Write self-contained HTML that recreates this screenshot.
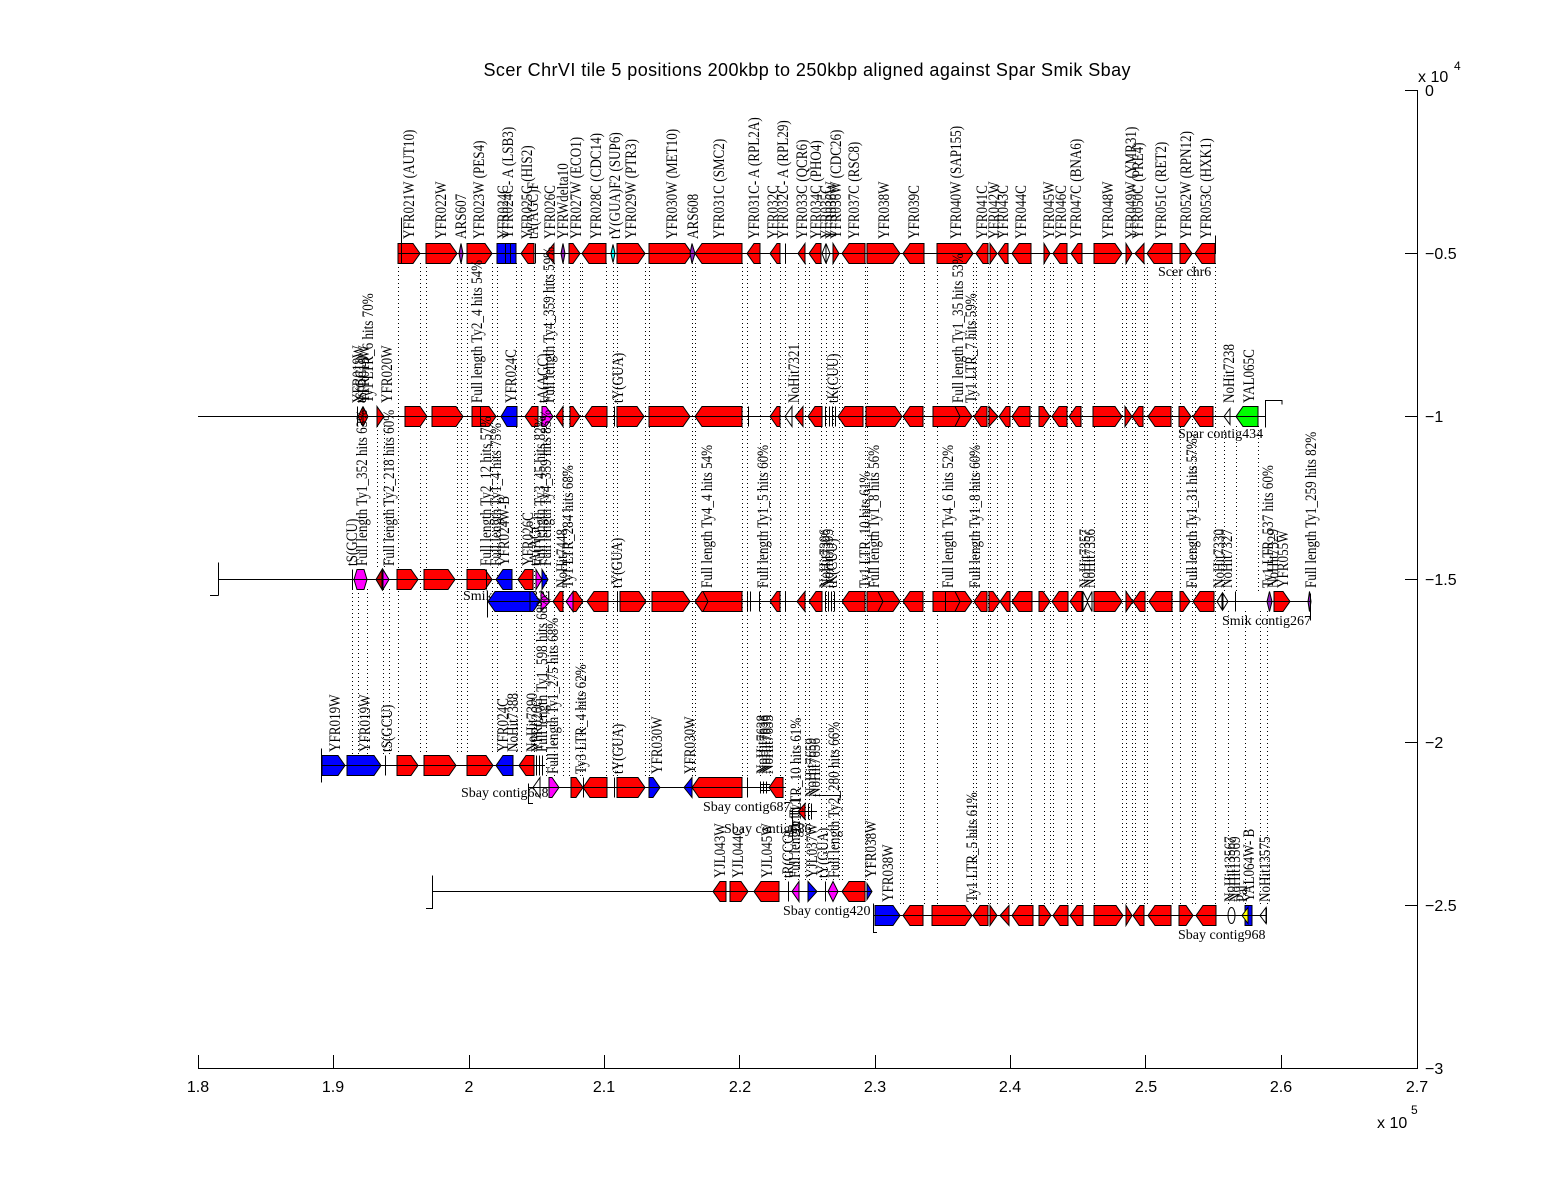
<!DOCTYPE html>
<html><head><meta charset="utf-8"><style>
html,body{margin:0;padding:0;background:#fff}
svg{display:block;background:#fff}
.r{fill:#f00}.b{fill:#00f}.m{fill:#f0f}.g{fill:#0f0}.w{fill:#fff}.y{fill:#ff0}.p{fill:#9020c0}.d{fill:#c00000}
polygon,rect,ellipse{stroke:#000;stroke-width:1}
.ln{stroke:#000;stroke-width:1;fill:none}
.l text{font-family:"Liberation Serif",serif;font-size:16px;fill:#000}
.c{font-family:"Liberation Serif",serif;font-size:14px;fill:#000}
.ax{font-family:"Liberation Sans",sans-serif;font-size:16px;fill:#000}
</style></head><body>
<svg width="1568" height="1200" viewBox="0 0 1568 1200" xmlns="http://www.w3.org/2000/svg">
<!-- title -->
<text class="ax" x="807" y="76" text-anchor="middle" textLength="647" style="font-size:18px">Scer ChrVI tile 5 positions 200kbp to 250kbp aligned against Spar Smik Sbay</text>
<!-- dotted alignment lines -->
<path class="ln" stroke-dasharray="1 3" d="
M398.5 263V755M420.5 263V755M426.5 263V755M457.5 263V755M461.5 263V755M467.5 263V755M492.5 263V755M497.5 263V755M516.5 263V755M521.5 263V755M534.5 263V755
M546.5 263V777M554.5 263V777M563.5 263V777M569.5 263V777M580.5 263V777M582.5 263V777M606.5 263V777M613.5 263V777M617.5 263V777M645.5 263V777M649.5 263V777M692.5 263V777M695.5 263V777M742.5 263V777M747.5 263V777M760.5 263V777M770.5 263V777M780.5 263V777
M785.5 263V881M798.5 263V881M805.5 263V881M809.5 263V881M821.5 263V881M826.5 263V881M833.5 263V881M839.5 263V881M842.5 263V881M865.5 263V881M867.5 263V881
M900.5 263V905M903.5 263V905M924.5 263V905M937.5 263V905M973.5 263V905M976.5 263V905M988.5 263V905M990.5 263V905M997.5 263V905M1008.5 263V905M1012.5 263V905M1031.5 263V905M1044.5 263V905M1050.5 263V905M1053.5 263V905M1067.5 263V905M1071.5 263V905M1082.5 263V905M1094.5 263V905M1122.5 263V905M1126.5 263V905M1132.5 263V905M1135.5 263V905M1144.5 263V905M1147.5 263V905M1172.5 263V905M1180.5 263V905M1192.5 263V905M1195.5 263V905M1215.5 263V905
M377.5 426V569M384.5 426V569
M352.5 589V755M358.5 589V755M367.5 589V755M383.5 589V755M389.5 589V755
M1224.5 426V591M1236.5 426V591M1258.5 426V591
M1228.5 611V905M1245.5 611V905M1260.5 611V905M1267.5 611V905"/>
<!-- contig labels (drawn before genes) -->
<text class="c" x="1158" y="276">Scer chr6</text>
<text class="c" x="1178" y="438">Spar contig434</text>
<text class="c" x="463" y="600">Smik contig331</text>
<text class="c" x="1222" y="625">Smik contig267</text>
<text class="c" x="461" y="797">Sbay contig688</text>
<text class="c" x="703" y="811">Sbay contig687</text>
<text class="c" x="724" y="833">Sbay contig686</text>
<text class="c" x="783" y="915">Sbay contig420</text>
<text class="c" x="1178" y="939">Sbay contig968</text>

<!-- Scer row -->
<g transform="translate(0,253.5)">
<polygon class="r" points="398,-10 413,-10 420,0 413,10 398,10"/>
<polygon class="r" points="426,-10 450,-10 457,0 450,10 426,10"/>
<polygon class="p" points="459,0 461,-10 463,0 461,10"/>
<polygon class="r" points="467,-10 485,-10 492,0 485,10 467,10"/>
<rect class="b" x="497" y="-10" width="19" height="20"/>
<polygon class="r" points="521,0 528,-10 534,-10 534,10 528,10"/>
<polygon class="r" points="554,-10 546,0 554,10"/>
<polygon class="p" points="561,0 563,-10 565,0 563,10"/>
<polygon class="r" points="569,-10 573,-10 580,0 573,10 569,10"/>
<polygon class="r" points="582,0 589,-10 606,-10 606,10 589,10"/>
<polygon fill="#0ff" points="611,0 613,-9 615,0 613,9"/>
<polygon class="r" points="617,-10 638,-10 645,0 638,10 617,10"/>
<polygon class="r" points="649,-10 685,-10 692,0 685,10 649,10"/>
<polygon class="p" points="690,0 692,-10 695,0 692,10"/>
<polygon class="r" points="695,0 702,-10 742,-10 742,10 702,10"/>
<polygon class="r" points="747,0 754,-10 760,-10 760,10 754,10"/>
<polygon class="r" points="770,0 777,-10 780,-10 780,10 777,10"/>
<polygon class="r" points="805,-10 798,0 805,10"/>
<polygon class="r" points="809,0 816,-10 821,-10 821,10 816,10"/>
<polygon class="w" points="826,-10 822,0 826,10"/>
<polygon class="w" points="826,-10 830,0 826,10"/>
<polygon class="r" points="833,-10 839,0 833,10"/>
<polygon class="r" points="842,0 849,-10 865,-10 865,10 849,10"/>
<polygon class="r" points="867,-10 893,-10 900,0 893,10 867,10"/>
<polygon class="r" points="903,0 910,-10 924,-10 924,10 910,10"/>
<polygon class="r" points="937,-10 966,-10 973,0 966,10 937,10"/>
<polygon class="r" points="976,0 983,-10 988,-10 988,10 983,10"/>
<polygon class="r" points="990,-10 997,0 990,10"/>
<polygon class="r" points="998,0 1005,-10 1008,-10 1008,10 1005,10"/>
<polygon class="r" points="1012,0 1019,-10 1031,-10 1031,10 1019,10"/>
<polygon class="r" points="1044,-10 1050,0 1044,10"/>
<polygon class="r" points="1053,0 1060,-10 1067,-10 1067,10 1060,10"/>
<polygon class="r" points="1071,0 1078,-10 1082,-10 1082,10 1078,10"/>
<polygon class="r" points="1094,-10 1115,-10 1122,0 1115,10 1094,10"/>
<polygon class="r" points="1126,-10 1132,0 1126,10"/>
<polygon class="r" points="1144,-10 1135,0 1144,10"/>
<polygon class="r" points="1147,0 1154,-10 1172,-10 1172,10 1154,10"/>
<polygon class="r" points="1180,-10 1185,-10 1192,0 1185,10 1180,10"/>
<polygon class="r" points="1195,0 1202,-10 1215,-10 1215,10 1202,10"/>
<path class="ln" d="M398 0H1216M401.5 -36V10M535.5 -10V10M785.5 -10V10M1215.5 -18V0M505.5 -10V10M510.5 -10V10"/>
</g>

<!-- Spar row -->
<g transform="translate(0,416.5)">
<polygon class="r" points="363,-10 358,0 363,10"/>
<polygon class="r" points="363,-10 368,0 363,10"/>
<polygon class="r" points="377,-10 384,0 377,10"/>
<polygon class="r" points="405,-10 420,-10 427,0 420,10 405,10"/>
<polygon class="r" points="432,-10 456,-10 463,0 456,10 432,10"/>
<polygon class="r" points="472,-10 489,-10 496,0 489,10 472,10"/>
<polygon class="b" points="501,0 507,-10 517,-10 517,10 507,10"/>
<polygon class="r" points="525,0 532,-10 538,-10 538,10 532,10"/>
<polygon class="m" points="542,-10 546,-10 553,0 546,10 542,10"/>
<polygon class="r" points="563,-10 556,0 563,10"/>
<polygon class="r" points="570,-10 573,-10 580,0 573,10 570,10"/>
<polygon class="r" points="585,0 592,-10 607,-10 607,10 592,10"/>
<polygon class="r" points="617,-10 637,-10 644,0 637,10 617,10"/>
<polygon class="r" points="649,-10 683,-10 690,0 683,10 649,10"/>
<polygon class="r" points="695,0 702,-10 742,-10 742,10 702,10"/>
<polygon class="r" points="770,0 777,-10 780,-10 780,10 777,10"/>
<polygon class="w" points="792,-10 785,0 792,10"/>
<polygon class="r" points="803,-10 795,0 803,10"/>
<polygon class="r" points="808,0 815,-10 822,-10 822,10 815,10"/>
<polygon class="r" points="838,0 845,-10 863,-10 863,10 845,10"/>
<polygon class="r" points="866,-10 895,-10 902,0 895,10 866,10"/>
<polygon class="r" points="903,0 910,-10 923,-10 923,10 910,10"/>
<polygon class="r" points="933,-10 965,-10 972,0 965,10 933,10"/>
<polygon class="r" points="974,0 981,-10 987,-10 987,10 981,10"/>
<polygon class="r" points="989,-10 998,0 989,10"/>
<polygon class="r" points="999,0 1006,-10 1010,-10 1010,10 1006,10"/>
<polygon class="r" points="1012,0 1019,-10 1030,-10 1030,10 1019,10"/>
<polygon class="r" points="1039,-10 1043,-10 1050,0 1043,10 1039,10"/>
<polygon class="r" points="1052,0 1059,-10 1067,-10 1067,10 1059,10"/>
<polygon class="r" points="1069,0 1076,-10 1081,-10 1081,10 1076,10"/>
<polygon class="r" points="1093,-10 1115,-10 1122,0 1115,10 1093,10"/>
<polygon class="r" points="1125,-10 1132,0 1125,10"/>
<polygon class="r" points="1132,0 1139,-10 1143,-10 1143,10 1139,10"/>
<polygon class="r" points="1148,0 1155,-10 1171,-10 1171,10 1155,10"/>
<polygon class="r" points="1179,-10 1184,-10 1191,0 1184,10 1179,10"/>
<polygon class="r" points="1193,0 1200,-10 1213,-10 1213,10 1200,10"/>
<polygon class="w" points="1230,-8 1224,0 1230,8"/>
<polygon class="g" points="1236,0 1243,-10 1258,-10 1258,10 1243,10"/>
<path class="ln" d="M198 0H1265M357.5 -10V10M480.5 -10V10M614.5 -10V10M748.5 -10V10M825.5 -10V10M829.5 -10V10M832.5 -10V10M835.5 -10V10M955 -10L960 0L955 10M1265.5 11V-16H1282V-12"/>
</g>

<!-- Smik upper row -->
<g transform="translate(0,579.5)">
<polygon class="m" points="354,0 357,-10 364,-10 367,0 364,10 357,10"/>
<polygon class="d" points="382,-10 376,0 382,10"/>
<polygon class="m" points="383,-10 389,0 383,10"/>
<polygon class="r" points="397,-10 411,-10 418,0 411,10 397,10"/>
<polygon class="r" points="424,-10 448,-10 455,0 448,10 424,10"/>
<polygon class="r" points="467,-10 485,-10 492,0 485,10 467,10"/>
<polygon class="b" points="496,0 503,-10 512,-10 512,10 503,10"/>
<polygon class="r" points="518,0 525,-10 533,-10 533,10 525,10"/>
<polygon class="m" points="536,-10 542,0 536,10"/>
<polygon class="b" points="542,-10 548,0 542,10"/>
<path class="ln" d="M218 0H548M352.5 -10V10M486.5 -10V10M218.5 -17V16M210 16H218.5"/>
</g>

<!-- Smik lower row -->
<g transform="translate(0,601.5)">
<polygon class="b" points="488,0 495,-10 530,-10 530,10 495,10"/>
<polygon class="b" points="530,-10 533,-10 540,0 533,10 530,10"/>
<polygon class="m" points="541,-10 550,0 541,10"/>
<polygon class="r" points="553,0 560,-10 563,-10 563,10 560,10"/>
<polygon class="m" points="573,-10 566,0 573,10"/>
<polygon class="r" points="573,-10 576,-10 583,0 576,10 573,10"/>
<polygon class="r" points="587,0 594,-10 608,-10 608,10 594,10"/>
<polygon class="r" points="620,-10 639,-10 646,0 639,10 620,10"/>
<polygon class="r" points="652,-10 683,-10 690,0 683,10 652,10"/>
<polygon class="r" points="695,0 702,-10 742,-10 742,10 702,10"/>
<polygon class="r" points="770,0 777,-10 780,-10 780,10 777,10"/>
<polygon class="r" points="805,-10 797,0 805,10"/>
<polygon class="r" points="809,0 816,-10 822,-10 822,10 816,10"/>
<polygon class="r" points="842,0 849,-10 865,-10 865,10 849,10"/>
<polygon class="r" points="867,-10 893,-10 900,0 893,10 867,10"/>
<polygon class="r" points="903,0 910,-10 923,-10 923,10 910,10"/>
<polygon class="r" points="933,-10 965,-10 972,0 965,10 933,10"/>
<polygon class="r" points="974,0 981,-10 987,-10 987,10 981,10"/>
<polygon class="r" points="989,-10 993,-10 1000,0 993,10 989,10"/>
<polygon class="r" points="1000,0 1007,-10 1010,-10 1010,10 1007,10"/>
<polygon class="r" points="1012,0 1019,-10 1032,-10 1032,10 1019,10"/>
<polygon class="r" points="1039,-10 1043,-10 1050,0 1043,10 1039,10"/>
<polygon class="r" points="1052,0 1059,-10 1068,-10 1068,10 1059,10"/>
<polygon class="r" points="1070,0 1077,-10 1082,-10 1082,10 1077,10"/>
<polygon class="w" points="1083,-10 1088,0 1083,10"/>
<polygon class="w" points="1092,-10 1087,0 1092,10"/>
<polygon class="r" points="1094,-10 1115,-10 1122,0 1115,10 1094,10"/>
<polygon class="r" points="1126,-10 1133,0 1126,10"/>
<polygon class="r" points="1133,0 1140,-10 1145,-10 1145,10 1140,10"/>
<polygon class="r" points="1149,0 1156,-10 1172,-10 1172,10 1156,10"/>
<polygon class="r" points="1180,-10 1183,-10 1190,0 1183,10 1180,10"/>
<polygon class="r" points="1193,0 1200,-10 1214,-10 1214,10 1200,10"/>
<polygon class="w" points="1222,-8 1217,0 1222,8"/>
<polygon class="w" points="1223,-8 1228,0 1223,8"/>
<polygon class="p" points="1267,0 1269.5,-10 1272,0 1269.5,10"/>
<polygon class="r" points="1274,-10 1283,-10 1290,0 1283,10 1274,10"/>
<polygon class="p" points="1308,0 1309.5,-10 1311,0 1309.5,10"/>
<path class="ln" d="M487 0H1310M487.5 -9V16M617.5 -10V10M747.5 -10V10M750.5 -10V10M759.5 -10V10M785.5 -10V10M825.5 -10V10M828.5 -10V10M831.5 -10V10M834.5 -10V10M703 -10L708 0L703 10M878 -10L883 0L878 10M945.5 -10V10M955 -10L960 0L955 10M1235.5 -10V10M1310.5 -8V19"/>
</g>

<!-- Sbay A -->
<g transform="translate(0,765.5)">
<polygon class="b" points="322,-10 338,-10 345,0 338,10 322,10"/>
<polygon class="b" points="347,-10 374,-10 381,0 374,10 347,10"/>
<polygon class="r" points="397,-10 411,-10 418,0 411,10 397,10"/>
<polygon class="r" points="424,-10 449,-10 456,0 449,10 424,10"/>
<polygon class="r" points="467,-10 486,-10 493,0 486,10 467,10"/>
<polygon class="b" points="496,0 503,-10 513,-10 513,10 503,10"/>
<polygon class="r" points="519,0 526,-10 534,-10 534,10 526,10"/>
<path class="ln" d="M321 0H545M321.5 -17V17M385.5 -10V10M536.5 -10V10M539.5 -10V10M542.5 -10V10"/>
</g>

<!-- Sbay B -->
<g transform="translate(0,787.5)">
<polygon class="w" points="540,-10 533,0 540,10"/>
<polygon class="m" points="549,-10 552,-10 559,0 552,10 549,10"/>
<polygon class="r" points="571,-10 576,-10 583,0 576,10 571,10"/>
<polygon class="r" points="583,0 590,-10 607,-10 607,10 590,10"/>
<polygon class="r" points="617,-10 638,-10 645,0 638,10 617,10"/>
<polygon class="b" points="649,-10 653,-10 660,0 653,10 649,10"/>
<polygon class="b" points="692,-10 684,0 692,10"/>
<polygon class="r" points="692,0 699,-10 742,-10 742,10 699,10"/>
<polygon class="r" points="769,0 776,-10 783,-10 783,10 776,10"/>
<path class="ln" d="M528 0H785M528.5 -4V16H533M583.5 -10V10M614.5 -10V10M747.5 -10V10M760.5 -6V6M763.5 -6V6M766.5 -6V6M760 -3H770M760 3H770"/>
</g>

<!-- Sbay C -->
<g transform="translate(0,811.5)">
<polygon class="r" points="805,-8 798,0 805,8"/>
<path class="ln" d="M790 0H817M808.5 -8V8M811.5 -8V8M813 -16H840V-11M792.5 -2V28"/>
</g>

<!-- Sbay D -->
<g transform="translate(0,891.5)">
<polygon class="r" points="713,0 720,-10 726,-10 726,10 720,10"/>
<polygon class="r" points="730,-10 741,-10 748,0 741,10 730,10"/>
<polygon class="r" points="754,0 761,-10 779,-10 779,10 761,10"/>
<polygon class="m" points="799,-10 792,0 799,10"/>
<polygon class="b" points="808,-10 817,0 808,10"/>
<polygon class="m" points="828,0 833,-10 838,0 833,10"/>
<polygon class="r" points="842,0 849,-10 865,-10 865,10 849,10"/>
<polygon class="b" points="867,-8 872,0 867,8"/>
<path class="ln" d="M432 0H872M432.5 -16V17H426M788.5 -10V10M825.5 -10V10"/>
</g>

<!-- Sbay E -->
<g transform="translate(0,915.5)">
<polygon class="b" points="875,-10 893,-10 900,0 893,10 875,10"/>
<polygon class="r" points="903,0 910,-10 923,-10 923,10 910,10"/>
<polygon class="r" points="932,-10 965,-10 972,0 965,10 932,10"/>
<polygon class="r" points="973,0 980,-10 988,-10 988,10 980,10"/>
<polygon class="r" points="990,-10 997,0 990,10"/>
<polygon class="r" points="1009,-10 1000,0 1009,10"/>
<polygon class="r" points="1012,0 1019,-10 1033,-10 1033,10 1019,10"/>
<polygon class="r" points="1039,-10 1044,-10 1051,0 1044,10 1039,10"/>
<polygon class="r" points="1053,0 1060,-10 1068,-10 1068,10 1060,10"/>
<polygon class="r" points="1070,0 1077,-10 1083,-10 1083,10 1077,10"/>
<polygon class="r" points="1094,-10 1116,-10 1123,0 1116,10 1094,10"/>
<polygon class="r" points="1126,-10 1132,0 1126,10"/>
<polygon class="r" points="1133,0 1140,-10 1144,-10 1144,10 1140,10"/>
<polygon class="r" points="1148,0 1155,-10 1171,-10 1171,10 1155,10"/>
<polygon class="r" points="1179,-10 1186,-10 1193,0 1186,10 1179,10"/>
<polygon class="r" points="1196,0 1203,-10 1216,-10 1216,10 1203,10"/>
<ellipse class="w" cx="1231.5" cy="0" rx="3.5" ry="8"/>
<rect class="b" x="1245" y="-10" width="7" height="20"/>
<polygon class="y" points="1248,-8 1242,0 1248,8"/>
<polygon class="w" points="1266,-8 1260,0 1266,8"/>
<path class="ln" d="M873 0H1266M873.5 -12V17H877M1266.5 -8V8"/>
</g>

<!-- gene labels -->
<g class="l">
<!-- Scer -->
<text transform="translate(414,239) rotate(-90) scale(.82,1)">YFR021W (AUT10)</text>
<text transform="translate(446,239) rotate(-90) scale(.82,1)">YFR022W</text>
<text transform="translate(466,239) rotate(-90) scale(.82,1)">ARS607</text>
<text transform="translate(484,239) rotate(-90) scale(.82,1)">YFR023W (PES4)</text>
<text transform="translate(508,239) rotate(-90) scale(.82,1)">YFR024C</text>
<text transform="translate(513,239) rotate(-90) scale(.82,1)">YFR024C- A (LSB3)</text>
<text transform="translate(532,239) rotate(-90) scale(.82,1)">YFR025C (HIS2)</text>
<text transform="translate(538,239) rotate(-90) scale(.82,1)">tA(AGC)F</text>
<text transform="translate(555,239) rotate(-90) scale(.82,1)">YFR026C</text>
<text transform="translate(568,239) rotate(-90) scale(.82,1)">YFRWdelta10</text>
<text transform="translate(581,239) rotate(-90) scale(.82,1)">YFR027W (ECO1)</text>
<text transform="translate(601,239) rotate(-90) scale(.82,1)">YFR028C (CDC14)</text>
<text transform="translate(620,239) rotate(-90) scale(.82,1)">tY(GUA)F2 (SUP6)</text>
<text transform="translate(636,239) rotate(-90) scale(.82,1)">YFR029W (PTR3)</text>
<text transform="translate(677,239) rotate(-90) scale(.82,1)">YFR030W (MET10)</text>
<text transform="translate(698,239) rotate(-90) scale(.82,1)">ARS608</text>
<text transform="translate(724,239) rotate(-90) scale(.82,1)">YFR031C (SMC2)</text>
<text transform="translate(759,239) rotate(-90) scale(.82,1)">YFR031C- A (RPL2A)</text>
<text transform="translate(778,239) rotate(-90) scale(.82,1)">YFR032C</text>
<text transform="translate(788,239) rotate(-90) scale(.82,1)">YFR032C- A (RPL29)</text>
<text transform="translate(807,239) rotate(-90) scale(.82,1)">YFR033C (QCR6)</text>
<text transform="translate(821,239) rotate(-90) scale(.82,1)">YFR034C (PHO4)</text>
<text transform="translate(831,239) rotate(-90) scale(.82,1)">YFR035C</text>
<text transform="translate(836,239) rotate(-90) scale(.82,1)">YFR036W</text>
<text transform="translate(841,239) rotate(-90) scale(.82,1)">YFR036W (CDC26)</text>
<text transform="translate(859,239) rotate(-90) scale(.82,1)">YFR037C (RSC8)</text>
<text transform="translate(889,239) rotate(-90) scale(.82,1)">YFR038W</text>
<text transform="translate(919,239) rotate(-90) scale(.82,1)">YFR039C</text>
<text transform="translate(961,239) rotate(-90) scale(.82,1)">YFR040W (SAP155)</text>
<text transform="translate(987,239) rotate(-90) scale(.82,1)">YFR041C</text>
<text transform="translate(999,239) rotate(-90) scale(.82,1)">YFR042W</text>
<text transform="translate(1008,239) rotate(-90) scale(.82,1)">YFR043C</text>
<text transform="translate(1026,239) rotate(-90) scale(.82,1)">YFR044C</text>
<text transform="translate(1054,239) rotate(-90) scale(.82,1)">YFR045W</text>
<text transform="translate(1066,239) rotate(-90) scale(.82,1)">YFR046C</text>
<text transform="translate(1081,239) rotate(-90) scale(.82,1)">YFR047C (BNA6)</text>
<text transform="translate(1113,239) rotate(-90) scale(.82,1)">YFR048W</text>
<text transform="translate(1136,239) rotate(-90) scale(.82,1)">YFR049W (YMR31)</text>
<text transform="translate(1143,239) rotate(-90) scale(.82,1)">YFR050C (PRE4)</text>
<text transform="translate(1166,239) rotate(-90) scale(.82,1)">YFR051C (RET2)</text>
<text transform="translate(1191,239) rotate(-90) scale(.82,1)">YFR052W (RPN12)</text>
<text transform="translate(1211,239) rotate(-90) scale(.82,1)">YFR053C (HXK1)</text>
<!-- Spar -->
<text transform="translate(363,403) rotate(-90) scale(.82,1)">YFR019W</text>
<text transform="translate(366,403) rotate(-90) scale(.82,1)">tS(GCU)</text>
<text transform="translate(369,403) rotate(-90) scale(.82,1)">YFR019W</text>
<text transform="translate(373,403) rotate(-90) scale(.82,1)">Ty1 LTR_6 hits 70%</text>
<text transform="translate(392,403) rotate(-90) scale(.82,1)">YFR020W</text>
<text transform="translate(482,403) rotate(-90) scale(.82,1)">Full length Ty2_4 hits 54%</text>
<text transform="translate(516,403) rotate(-90) scale(.82,1)">YFR024C</text>
<text transform="translate(548,403) rotate(-90) scale(.82,1)">tA(AGC)</text>
<text transform="translate(554,403) rotate(-90) scale(.82,1)">Full length Ty4_359 hits 59%</text>
<text transform="translate(623,403) rotate(-90) scale(.82,1)">tY(GUA)</text>
<text transform="translate(799,403) rotate(-90) scale(.82,1)">NoHit7321</text>
<text transform="translate(838,403) rotate(-90) scale(.82,1)">tK(CUU)</text>
<text transform="translate(963,403) rotate(-90) scale(.82,1)">Full length Ty1_35 hits 53%</text>
<text transform="translate(976,403) rotate(-90) scale(.82,1)">Ty1 LTR_7 hits 59%</text>
<text transform="translate(1234,403) rotate(-90) scale(.82,1)">NoHit7238</text>
<text transform="translate(1254,403) rotate(-90) scale(.82,1)">YAL065C</text>
<!-- Smik upper -->
<text transform="translate(357,566) rotate(-90) scale(.82,1)">tS(GCU)</text>
<text transform="translate(367,566) rotate(-90) scale(.82,1)">Full length Ty1_352 hits 63%</text>
<text transform="translate(394,566) rotate(-90) scale(.82,1)">Full length Ty2_218 hits 60%</text>
<text transform="translate(491,566) rotate(-90) scale(.82,1)">Full length Ty2_12 hits 57%</text>
<text transform="translate(501,566) rotate(-90) scale(.82,1)">Full length Ty1_4 hits 75%</text>
<text transform="translate(509,566) rotate(-90) scale(.82,1)">YFR024W-B</text>
<text transform="translate(533,566) rotate(-90) scale(.82,1)">YFR026C</text>
<text transform="translate(540,566) rotate(-90) scale(.82,1)">tA(AGC)</text>
<text transform="translate(545,566) rotate(-90) scale(.82,1)">Full length Ty3_45 hits 82%</text>
<text transform="translate(551,566) rotate(-90) scale(.82,1)">Full length Ty4_359 hits 85%</text>
<!-- Smik lower -->
<text transform="translate(567,588) rotate(-90) scale(.82,1)">NoHit7448</text>
<text transform="translate(573,588) rotate(-90) scale(.82,1)">Ty1 LTR_284 hits 68%</text>
<text transform="translate(622,588) rotate(-90) scale(.82,1)">tY(GUA)</text>
<text transform="translate(712,588) rotate(-90) scale(.82,1)">Full length Ty4_4 hits 54%</text>
<text transform="translate(768,588) rotate(-90) scale(.82,1)">Full length Ty1_5 hits 60%</text>
<text transform="translate(830,588) rotate(-90) scale(.82,1)">NoHit7396</text>
<text transform="translate(833,588) rotate(-90) scale(.82,1)">NoHit7395</text>
<text transform="translate(837,588) rotate(-90) scale(.82,1)">tK(CUU)</text>
<text transform="translate(870,588) rotate(-90) scale(.82,1)">Ty1 LTR_10 hits 61%</text>
<text transform="translate(879,588) rotate(-90) scale(.82,1)">Full length Ty1_8 hits 56%</text>
<text transform="translate(953,588) rotate(-90) scale(.82,1)">Full length Ty4_6 hits 52%</text>
<text transform="translate(980,588) rotate(-90) scale(.82,1)">Full length Ty1_8 hits 60%</text>
<text transform="translate(1090,588) rotate(-90) scale(.82,1)">NoHit7357</text>
<text transform="translate(1095,588) rotate(-90) scale(.82,1)">NoHit7356</text>
<text transform="translate(1197,588) rotate(-90) scale(.82,1)">Full length Ty1_31 hits 57%</text>
<text transform="translate(1224,588) rotate(-90) scale(.82,1)">NoHit7330</text>
<text transform="translate(1232,588) rotate(-90) scale(.82,1)">NoHit7327</text>
<text transform="translate(1273,588) rotate(-90) scale(.82,1)">Ty1 LTR_537 hits 60%</text>
<text transform="translate(1278,588) rotate(-90) scale(.82,1)">NoHit7329</text>
<text transform="translate(1288,588) rotate(-90) scale(.82,1)">YFR055W</text>
<text transform="translate(1316,588) rotate(-90) scale(.82,1)">Full length Ty1_259 hits 82%</text>
<!-- Sbay A -->
<text transform="translate(340,752) rotate(-90) scale(.82,1)">YFR019W</text>
<text transform="translate(370,752) rotate(-90) scale(.82,1)">YFR019W</text>
<text transform="translate(392,752) rotate(-90) scale(.82,1)">tS(GCU)</text>
<text transform="translate(508,752) rotate(-90) scale(.82,1)">YFR024C</text>
<text transform="translate(518,752) rotate(-90) scale(.82,1)">NoHit7388</text>
<text transform="translate(537,752) rotate(-90) scale(.82,1)">NoHit7390</text>
<text transform="translate(542,752) rotate(-90) scale(.82,1)">YFR026C</text>
<text transform="translate(547,752) rotate(-90) scale(.82,1)">Full length Ty1_598 hits 68%</text>
<!-- Sbay B -->
<text transform="translate(558,774) rotate(-90) scale(.82,1)">Full length Ty1_275 hits 68%</text>
<text transform="translate(586,774) rotate(-90) scale(.82,1)">Ty3 LTR_4 hits 62%</text>
<text transform="translate(623,774) rotate(-90) scale(.82,1)">tY(GUA)</text>
<text transform="translate(662,774) rotate(-90) scale(.82,1)">YFR030W</text>
<text transform="translate(695,774) rotate(-90) scale(.82,1)">YFR030W</text>
<text transform="translate(767,774) rotate(-90) scale(.82,1)">NoHit7638</text>
<text transform="translate(770,774) rotate(-90) scale(.82,1)">NoHit7636</text>
<text transform="translate(773,774) rotate(-90) scale(.82,1)">NoHit7635</text>
<!-- Sbay C -->
<text transform="translate(801,834) rotate(-90) scale(.82,1)">Ty1 LTR_10 hits 61%</text>
<text transform="translate(816,797) rotate(-90) scale(.82,1)">NoHit7659</text>
<text transform="translate(820,797) rotate(-90) scale(.82,1)">NoHit7656</text>
<!-- Sbay D -->
<text transform="translate(725,878) rotate(-90) scale(.82,1)">YJL043W</text>
<text transform="translate(743,878) rotate(-90) scale(.82,1)">YJL044C</text>
<text transform="translate(772,878) rotate(-90) scale(.82,1)">YJL045W</text>
<text transform="translate(793,878) rotate(-90) scale(.82,1)">tR(CCG)</text>
<text transform="translate(800,878) rotate(-90) scale(.82,1)">Full length Ty1</text>
<text transform="translate(817,878) rotate(-90) scale(.82,1)">YJL037W</text>
<text transform="translate(828,878) rotate(-90) scale(.82,1)">tY(GUA)</text>
<text transform="translate(839,878) rotate(-90) scale(.82,1)">Full length Ty2_280 hits 66%</text>
<text transform="translate(876,878) rotate(-90) scale(.82,1)">YFR038W</text>
<!-- Sbay E -->
<text transform="translate(893,902) rotate(-90) scale(.82,1)">YFR038W</text>
<text transform="translate(977,902) rotate(-90) scale(.82,1)">Ty1 LTR_5 hits 61%</text>
<text transform="translate(1235,902) rotate(-90) scale(.82,1)">NoHit13567</text>
<text transform="translate(1240,902) rotate(-90) scale(.82,1)">NoHit13569</text>
<text transform="translate(1247,902) rotate(-90) scale(.82,1)">Pal</text>
<text transform="translate(1254,902) rotate(-90) scale(.82,1)">YAL064W- B</text>
<text transform="translate(1270,902) rotate(-90) scale(.82,1)">NoHit13575</text>
</g>

<!-- axes -->
<path class="ln" d="M198 1068.5H1418M1417.5 90V1068.5
M198.5 1055V1068M333.5 1055V1068M469.5 1055V1068M604.5 1055V1068M739.5 1055V1068M875.5 1055V1068M1010.5 1055V1068M1145.5 1055V1068M1281.5 1055V1068
M1405 90.5H1417M1405 253.5H1417M1405 416.5H1417M1405 579.5H1417M1405 742.5H1417M1405 905.5H1417M1405 1068.5H1417"/>
<g class="ax" text-anchor="middle">
<text x="198" y="1092">1.8</text>
<text x="333" y="1092">1.9</text>
<text x="469" y="1092">2</text>
<text x="604" y="1092">2.1</text>
<text x="740" y="1092">2.2</text>
<text x="875" y="1092">2.3</text>
<text x="1010" y="1092">2.4</text>
<text x="1146" y="1092">2.5</text>
<text x="1281" y="1092">2.6</text>
<text x="1417" y="1092">2.7</text>
</g>
<g class="ax">
<text x="1425" y="96">0</text>
<text x="1425" y="259">−0.5</text>
<text x="1425" y="422">−1</text>
<text x="1425" y="585">−1.5</text>
<text x="1425" y="748">−2</text>
<text x="1425" y="911">−2.5</text>
<text x="1425" y="1074">−3</text>
<text x="1418" y="82">x 10</text>
<text x="1454" y="70" style="font-size:12px">4</text>
<text x="1377" y="1128">x 10</text>
<text x="1411" y="1114" style="font-size:12px">5</text>
</g>
</svg>
</body></html>
